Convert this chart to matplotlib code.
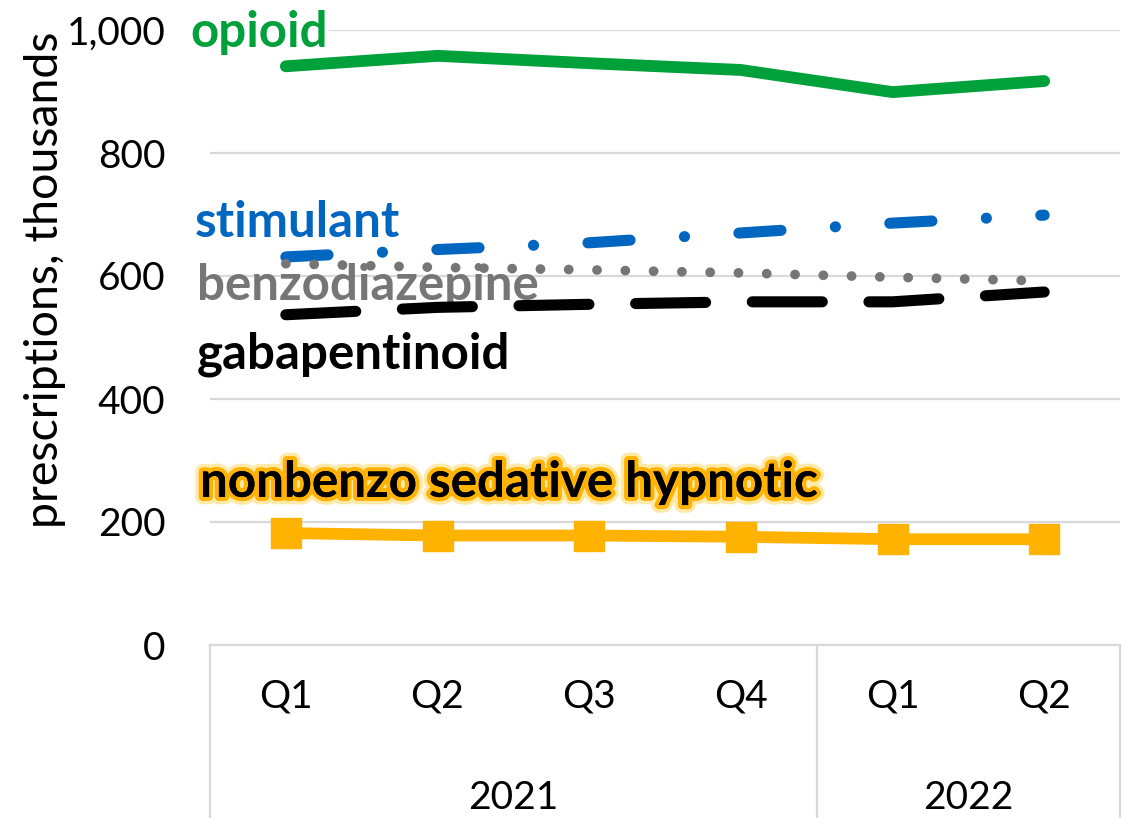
import matplotlib
matplotlib.use("Agg")
import matplotlib.pyplot as plt
import matplotlib.patheffects as pe
from matplotlib.ticker import FuncFormatter

plt.rcParams['font.family'] = ['Lato', 'DejaVu Sans']

quarters = ["Q1", "Q2", "Q3", "Q4", "Q1", "Q2"]
years = ["2021", "2022"]
year_spans = [(0, 3), (4, 5)]

opioid = [941, 958, 946, 935, 899, 917]
stimulant = [631, 643, 654, 670, 686, 699]
benzodiazepine = [620, 614, 610, 605, 598, 592]
gabapentinoid = [537, 549, 554, 558, 558, 574]
nonbenzo = [182, 178, 178, 176, 172, 172]

yticks = [0, 200, 400, 600, 800, 1000]

fig = plt.figure(figsize=(11.27, 8.18), dpi=100)
ax = fig.add_axes([210/1127, 1-645/818, 910/1127, 615/818])
x = list(range(len(quarters)))

ax.set_xlim(-0.5, 5.5)
ax.set_ylim(0, 1000)
ax.set_yticks(yticks)
ax.yaxis.set_major_formatter(FuncFormatter(lambda v, p: f"{int(v):,}"))
ax.grid(axis='y', color='#D9D9D9', lw=1.6, zorder=0)
ax.set_axisbelow(True)
for s in ['left', 'right', 'top']:
    ax.spines[s].set_visible(False)
ax.spines['bottom'].set_color('#D9D9D9')
ax.spines['bottom'].set_linewidth(1.6)
ax.tick_params(axis='both', length=0, labelsize=28)
ax.tick_params(axis='y', pad=32)
ax.tick_params(axis='x', pad=24)
ax.set_xticks(x)
ax.set_xticklabels(quarters)

# category separators
for xs in [-0.5, 3.5, 5.5]:
    ax.plot([xs, xs], [0, -400], color='#D9D9D9', lw=1.6, clip_on=False, zorder=1)

for yr, (a, b) in zip(years, year_spans):
    ax.annotate(yr, xy=((a + b) / 2, 0), xycoords=('data', 'axes fraction'),
                xytext=(0, -110), textcoords='offset points',
                ha='center', va='center', fontsize=28)

# series
ax.plot(x, opioid, color='#00A03B', lw=8.5, solid_capstyle='round', solid_joinstyle='round', zorder=5)
ax.plot(x, stimulant, color='#0066C0', lw=8, linestyle=(0, (3.8, 4.9, 0.01, 4.9)),
        dash_capstyle='round', zorder=4)
ax.plot(x, benzodiazepine, color='#767676', lw=7, linestyle=(0, (0.01, 2.9)),
        dash_capstyle='round', zorder=4)
ax.plot(x, gabapentinoid, color='black', lw=8, linestyle=(0, (6.3, 4.2)),
        dash_capstyle='round', zorder=4)
ax.plot(x, nonbenzo, color='#FFB300', lw=8.5, marker='s', markersize=22, zorder=5)

# labels
lab_fs = 35.5
ax.text(-0.632, 972, "opioid", color='#00A03B', fontsize=lab_fs, fontweight='bold',
        ha='left', va='baseline', zorder=6,
        bbox=dict(facecolor='white', edgecolor='none', pad=1))
ax.text(-0.599, 663, "stimulant", color='#0066C0', fontsize=lab_fs, fontweight='bold',
        ha='left', va='baseline', zorder=6)
ax.text(-0.586, 561, "benzodiazepine", color='#767676', fontsize=lab_fs, fontweight='bold',
        ha='left', va='baseline', zorder=3)
ax.text(-0.586, 450, "gabapentinoid", color='black', fontsize=lab_fs, fontweight='bold',
        ha='left', va='baseline', zorder=6)
ax.text(-0.566, 241, "nonbenzo sedative hypnotic", color='black', fontsize=lab_fs,
        fontweight='bold', ha='left', va='baseline', zorder=6,
        path_effects=[pe.withStroke(linewidth=11, foreground='#FFE9A8'),
                      pe.withStroke(linewidth=6, foreground='#FFB300'),
                      pe.Normal()])

fig.text(45/1127, 1-280/818, "prescriptions, thousands", rotation=90,
         ha='center', va='center', fontsize=33.5)

fig.savefig("out.png", dpi=100)
